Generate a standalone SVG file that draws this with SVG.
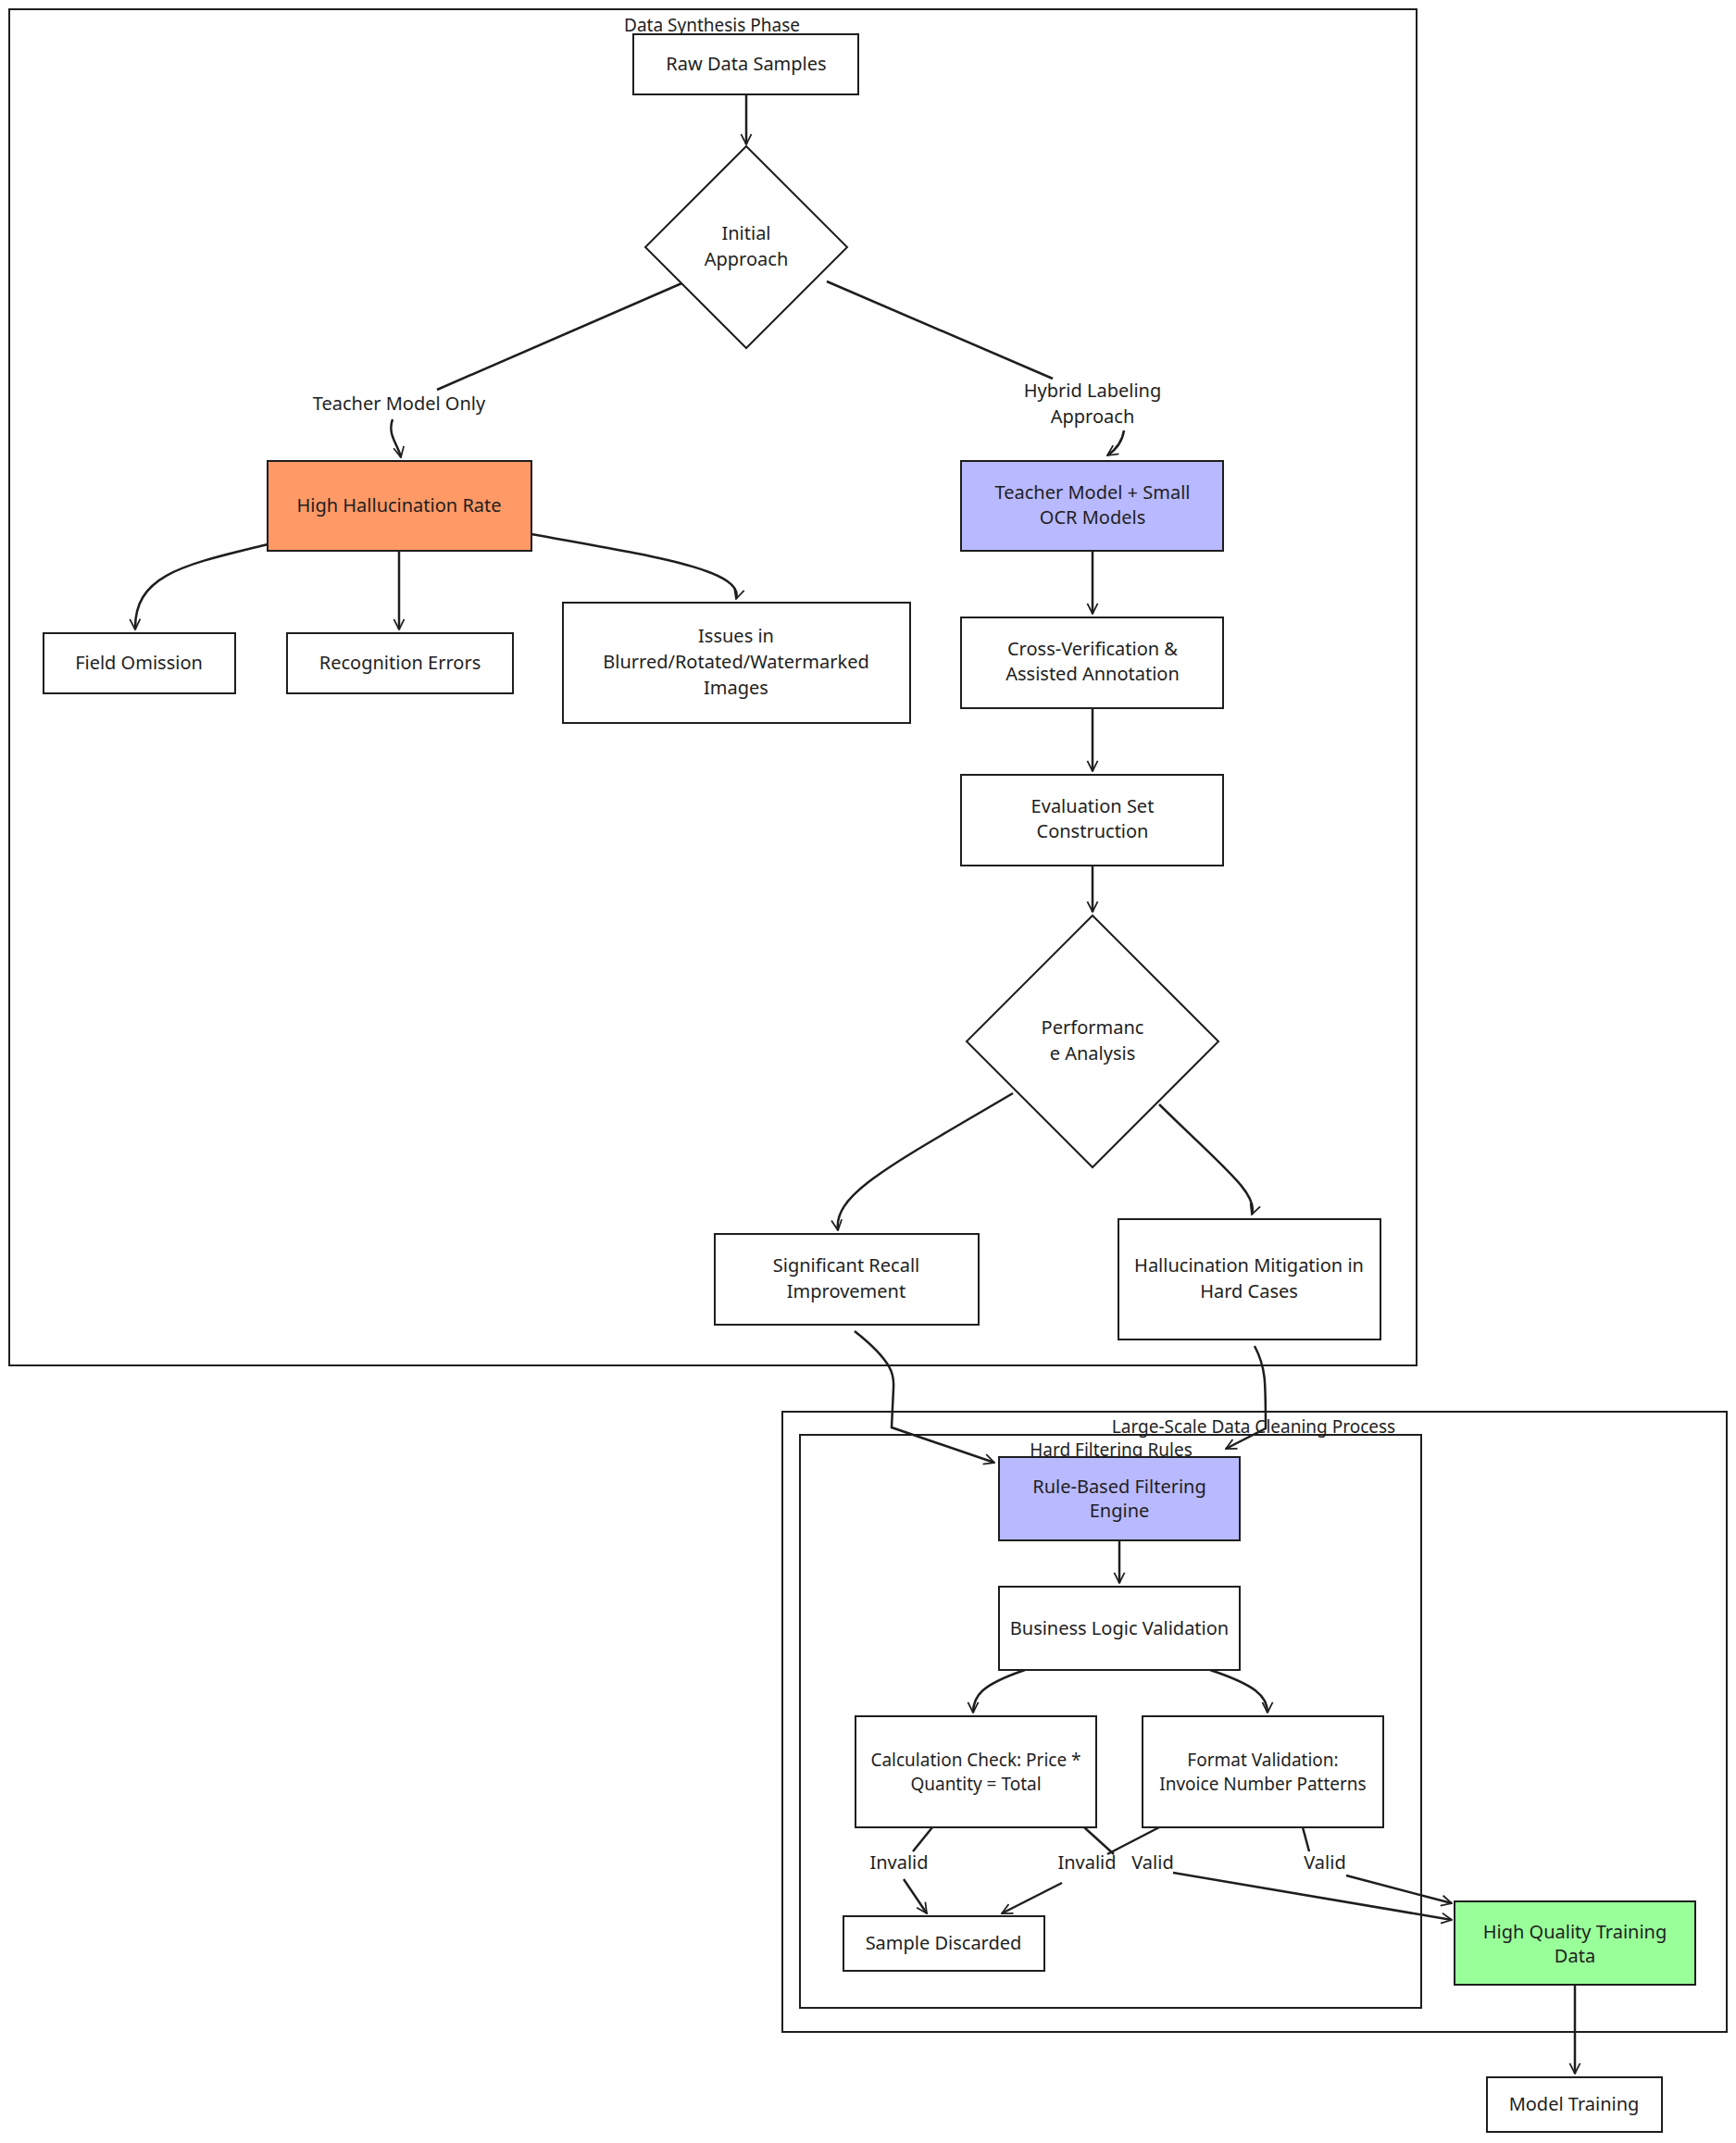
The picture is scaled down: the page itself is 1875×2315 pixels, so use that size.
<svg xmlns="http://www.w3.org/2000/svg" width="1875" height="2315" viewBox="0 0 1875 2315">
<style>
text{font-family:"Noto Sans","Liberation Sans",sans-serif;font-size:20px;fill:#1e1e1e;text-anchor:middle}
.n{fill:#fff;stroke:#1e1e1e;stroke-width:2}
.c{fill:none;stroke:#1e1e1e;stroke-width:2}
.e{fill:none;stroke:#1e1e1e;stroke-width:2.5;marker-end:url(#a)}
.l{fill:none;stroke:#1e1e1e;stroke-width:2.5}
.t{font-size:19px}
</style>
<defs><marker id="a" viewBox="0 0 20 20" refX="18" refY="10" markerWidth="14" markerHeight="14" markerUnits="userSpaceOnUse" orient="auto"><path d="M2 2 L18 10 L2 18" fill="none" stroke="#1e1e1e" stroke-width="2.5"/></marker></defs>
<rect fill="#fff" width="1875" height="2315"/>
<g id="clusters">
<rect class="c" x="10" y="10" width="1520" height="1465"/><text class="t" x="769" y="34">Data Synthesis Phase</text>
<rect class="c" x="845" y="1525" width="1020" height="670"/><text class="t" x="1354" y="1548">Large-Scale Data Cleaning Process</text>
<rect class="c" x="864" y="1550" width="671" height="619"/><text class="t" x="1200" y="1573">Hard Filtering Rules</text>
</g>
<g id="edges">
<path class="e" d="M806 102 L806 156"/>
<path class="l" d="M741 304 L472 421"/><path class="e" d="M424 453 C418 470 430 480 433 494"/>
<path class="l" d="M893 304 L1137 409"/><path class="e" d="M1214 465 C1212 478 1205 486 1196 492"/>
<path class="e" d="M289 588 C200 610 145 620 146 680"/>
<path class="e" d="M431 595 L431 680"/>
<path class="e" d="M574 577 C700 600 805 615 795 647"/>
<path class="e" d="M1180 595 L1180 663"/>
<path class="e" d="M1180 765 L1180 833"/>
<path class="e" d="M1180 935 L1180 985"/>
<path class="e" d="M1094 1181 C960 1260 900 1290 905 1329"/>
<path class="e" d="M1252 1193 C1320 1260 1360 1290 1352 1312"/>
<path class="e" d="M923 1438 C970 1475 965 1490 965 1500 L963 1542 L1074 1580"/>
<path class="e" d="M1355 1454 C1367 1477 1367 1490 1367 1543 L1324 1565"/>
<path class="e" d="M1209 1664 L1209 1710"/>
<path class="e" d="M1107 1804 C1060 1820 1051 1832 1051 1850"/>
<path class="e" d="M1307 1804 C1355 1820 1369 1832 1369 1850"/>
<path class="l" d="M1007 1974 L986 2000"/><path class="e" d="M976 2030 L1001 2067"/>
<path class="l" d="M1252 1974 L1196 2003"/><path class="e" d="M1147 2034 L1082 2067"/>
<path class="l" d="M1171 1974 L1203 2003"/><path class="e" d="M1267 2023 L1568 2074"/>
<path class="l" d="M1407 1974 L1414 2000"/><path class="e" d="M1454 2026 L1568 2056"/>
<path class="e" d="M1701 2144 L1701 2240"/>
</g>
<g id="labels">
<text x="431" y="443">Teacher Model Only</text>
<text x="1180" y="429">Hybrid Labeling</text><text x="1180" y="457">Approach</text>
<text x="971" y="2019">Invalid</text>
<text x="1174" y="2019">Invalid</text>
<text x="1245" y="2019">Valid</text>
<text x="1431" y="2019">Valid</text>
</g>
<g id="raw"><rect class="n" x="684" y="37" width="243" height="65"/><text x="806" y="76">Raw Data Samples</text></g>
<g id="initial"><path class="n" d="M806 158 L915 267 L806 376 L697 267 Z"/><text x="806" y="259">Initial</text><text x="806" y="287">Approach</text></g>
<g id="highhall"><rect class="n" style="fill:#ff9966" x="289" y="498" width="285" height="97"/><text x="431" y="553">High Hallucination Rate</text></g>
<g id="teacher"><rect class="n" style="fill:#b9b9ff" x="1038" y="498" width="283" height="97"/><text x="1180" y="539">Teacher Model + Small</text><text x="1180" y="566">OCR Models</text></g>
<g id="field"><rect class="n" x="47" y="684" width="207" height="65"/><text x="150" y="723">Field Omission</text></g>
<g id="recog"><rect class="n" x="310" y="684" width="244" height="65"/><text x="432" y="723">Recognition Errors</text></g>
<g id="issues"><rect class="n" x="608" y="651" width="375" height="130"/><text x="795" y="694">Issues in</text><text x="795" y="722">Blurred/Rotated/Watermarked</text><text x="795" y="750">Images</text></g>
<g id="cross"><rect class="n" x="1038" y="667" width="283" height="98"/><text x="1180" y="708">Cross-Verification &amp;</text><text x="1180" y="735">Assisted Annotation</text></g>
<g id="evalset"><rect class="n" x="1038" y="837" width="283" height="98"/><text x="1180" y="878">Evaluation Set</text><text x="1180" y="905">Construction</text></g>
<g id="perf"><path class="n" d="M1180 989 L1316 1125 L1180 1261 L1044 1125 Z"/><text x="1180" y="1117">Performanc</text><text x="1180" y="1145">e Analysis</text></g>
<g id="recall"><rect class="n" x="772" y="1333" width="285" height="98"/><text x="914" y="1374">Significant Recall</text><text x="914" y="1402">Improvement</text></g>
<g id="mitig"><rect class="n" x="1208" y="1317" width="283" height="130"/><text x="1349" y="1374">Hallucination Mitigation in</text><text x="1349" y="1402">Hard Cases</text></g>
<g id="rule"><rect class="n" style="fill:#b9b9ff" x="1079" y="1574" width="260" height="90"/><text x="1209" y="1613">Rule-Based Filtering</text><text x="1209" y="1639">Engine</text></g>
<g id="business"><rect class="n" x="1079" y="1714" width="260" height="90"/><text x="1209" y="1766">Business Logic Validation</text></g>
<g id="calc"><rect class="n" x="924" y="1854" width="260" height="120"/><text class="t" x="1054" y="1908">Calculation Check: Price *</text><text class="t" x="1054" y="1934">Quantity = Total</text></g>
<g id="format"><rect class="n" x="1234" y="1854" width="260" height="120"/><text class="t" x="1364" y="1908">Format Validation:</text><text class="t" x="1364" y="1934">Invoice Number Patterns</text></g>
<g id="discard"><rect class="n" x="911" y="2070" width="217" height="59"/><text x="1019" y="2106">Sample Discarded</text></g>
<g id="hq"><rect class="n" style="fill:#99ff99" x="1571" y="2054" width="260" height="90"/><text x="1701" y="2094">High Quality Training</text><text x="1701" y="2120">Data</text></g>
<g id="train"><rect class="n" x="1606" y="2244" width="189" height="59"/><text x="1700" y="2280">Model Training</text></g>
</svg>
